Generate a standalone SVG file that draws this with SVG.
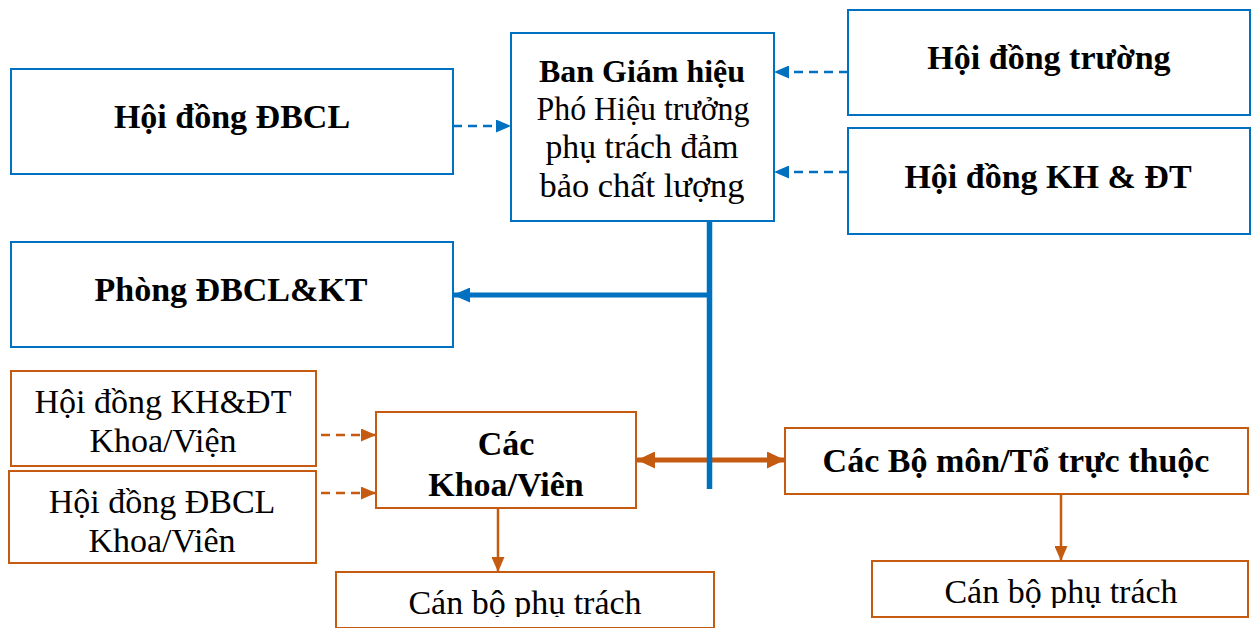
<svg xmlns="http://www.w3.org/2000/svg" width="1254" height="628" viewBox="0 0 1254 628">
<style>
text{font-family:"Liberation Serif","Times New Roman","DejaVu Serif",serif;fill:#000;text-anchor:middle}
.b{font-weight:bold}
.bx{fill:#fff;stroke:#0070C0;stroke-width:2}
.ox{fill:#fff;stroke:#C55A11;stroke-width:2}
.bd{stroke:#0070C0;stroke-width:2.5;stroke-dasharray:9 6;fill:none}
.od{stroke:#C55A11;stroke-width:2.5;stroke-dasharray:9 6;fill:none}
</style>
<defs>
<marker id="ab" viewBox="0 0 15 13" refX="15" refY="6.5" markerWidth="15" markerHeight="13" markerUnits="userSpaceOnUse" orient="auto-start-reverse"><path d="M0,0L15,6.5L0,13z" fill="#0070C0"/></marker>
<marker id="ao" viewBox="0 0 15 13" refX="15" refY="6.5" markerWidth="15" markerHeight="13" markerUnits="userSpaceOnUse" orient="auto-start-reverse"><path d="M0,0L15,6.5L0,13z" fill="#C55A11"/></marker>
<marker id="ab2" viewBox="0 0 17 15" refX="17" refY="7.5" markerWidth="17" markerHeight="15" markerUnits="userSpaceOnUse" orient="auto-start-reverse"><path d="M0,0L17,7.5L0,15z" fill="#0070C0"/></marker>
<marker id="ao2" viewBox="0 0 18 17" refX="18" refY="8.5" markerWidth="18" markerHeight="17" markerUnits="userSpaceOnUse" orient="auto-start-reverse"><path d="M0,0L18,8.5L0,17z" fill="#C55A11"/></marker>
<clipPath id="c1"><rect x="337" y="573" width="376" height="44"/></clipPath>
<clipPath id="c2"><rect x="873" y="562" width="374" height="46"/></clipPath>
</defs>

<g id="n-bgh">
<rect class="bx" x="511" y="33" width="263" height="188"/>
<text x="642" y="82" class="b" font-size="32" textLength="206" lengthAdjust="spacingAndGlyphs">Ban Giám hiệu</text>
<text x="643" y="120" font-size="33" textLength="213" lengthAdjust="spacingAndGlyphs">Phó Hiệu trưởng</text>
<text x="642" y="158" font-size="33" textLength="193" lengthAdjust="spacingAndGlyphs">phụ trách đảm</text>
<text x="642" y="197" font-size="33" textLength="205" lengthAdjust="spacingAndGlyphs">bảo chất lượng</text>
</g>
<g id="n-hddbcl">
<rect class="bx" x="11" y="69" width="442" height="105"/>
<text x="232" y="128" class="b" font-size="34">Hội đồng ĐBCL</text>
</g>
<g id="n-hdtruong">
<rect class="bx" x="848" y="10" width="402" height="105"/>
<text x="1049" y="69" class="b" font-size="34">Hội đồng trường</text>
</g>
<g id="n-hdkhdt">
<rect class="bx" x="848" y="128" width="402" height="106"/>
<text x="1048" y="188" class="b" font-size="34">Hội đồng KH &amp; ĐT</text>
</g>
<g id="n-phong">
<rect class="bx" x="11" y="242" width="442" height="105"/>
<text x="231" y="301" class="b" font-size="34">Phòng ĐBCL&amp;KT</text>
</g>
<g id="n-hdkhdt-khoa">
<rect class="ox" x="11" y="371" width="305" height="95"/>
<text x="163" y="413" font-size="34">Hội đồng KH&amp;ĐT</text>
<text x="163" y="452" font-size="34">Khoa/Viện</text>
</g>
<g id="n-hddbcl-khoa">
<rect class="ox" x="9" y="471" width="307" height="92"/>
<text x="162" y="513" font-size="34">Hội đồng ĐBCL</text>
<text x="162" y="552" font-size="34">Khoa/Viên</text>
</g>
<g id="n-khoa">
<rect class="ox" x="376" y="412" width="260" height="96"/>
<text x="506" y="455" class="b" font-size="34">Các</text>
<text x="506" y="496" class="b" font-size="34">Khoa/Viên</text>
</g>
<g id="n-bomon">
<rect class="ox" x="785" y="428" width="463" height="66"/>
<text x="1016" y="472" class="b" font-size="34">Các Bộ môn/Tổ trực thuộc</text>
</g>
<g id="n-canbo1">
<rect class="ox" x="336" y="572" width="378" height="56"/>
<text x="525" y="614" font-size="34" clip-path="url(#c1)">Cán bộ phụ trách</text>
</g>
<g id="n-canbo2">
<rect class="ox" x="872" y="561" width="376" height="56"/>
<text x="1061" y="603" font-size="34" clip-path="url(#c2)">Cán bộ phụ trách</text>
</g>

<g id="connectors">
<line class="bd" x1="453" y1="126" x2="511" y2="126" marker-end="url(#ab)"/>
<line class="bd" x1="848" y1="72" x2="774" y2="72" marker-end="url(#ab)"/>
<line class="bd" x1="848" y1="172" x2="774" y2="172" marker-end="url(#ab)"/>
<line x1="637" y1="460" x2="785" y2="460" stroke="#C55A11" stroke-width="5" marker-start="url(#ao2)" marker-end="url(#ao2)"/>
<line x1="709.5" y1="221" x2="709.5" y2="489" stroke="#0070C0" stroke-width="5.5"/>
<line x1="712" y1="295" x2="453" y2="295" stroke="#0070C0" stroke-width="5" marker-end="url(#ab2)"/>
<line class="od" x1="321" y1="435" x2="376" y2="435" marker-end="url(#ao)"/>
<line class="od" x1="321" y1="493" x2="376" y2="493" marker-end="url(#ao)"/>
<line x1="498" y1="508" x2="498" y2="572" stroke="#C55A11" stroke-width="2.5" marker-end="url(#ao)"/>
<line x1="1061" y1="494" x2="1061" y2="561" stroke="#C55A11" stroke-width="2.5" marker-end="url(#ao)"/>
</g>
</svg>
